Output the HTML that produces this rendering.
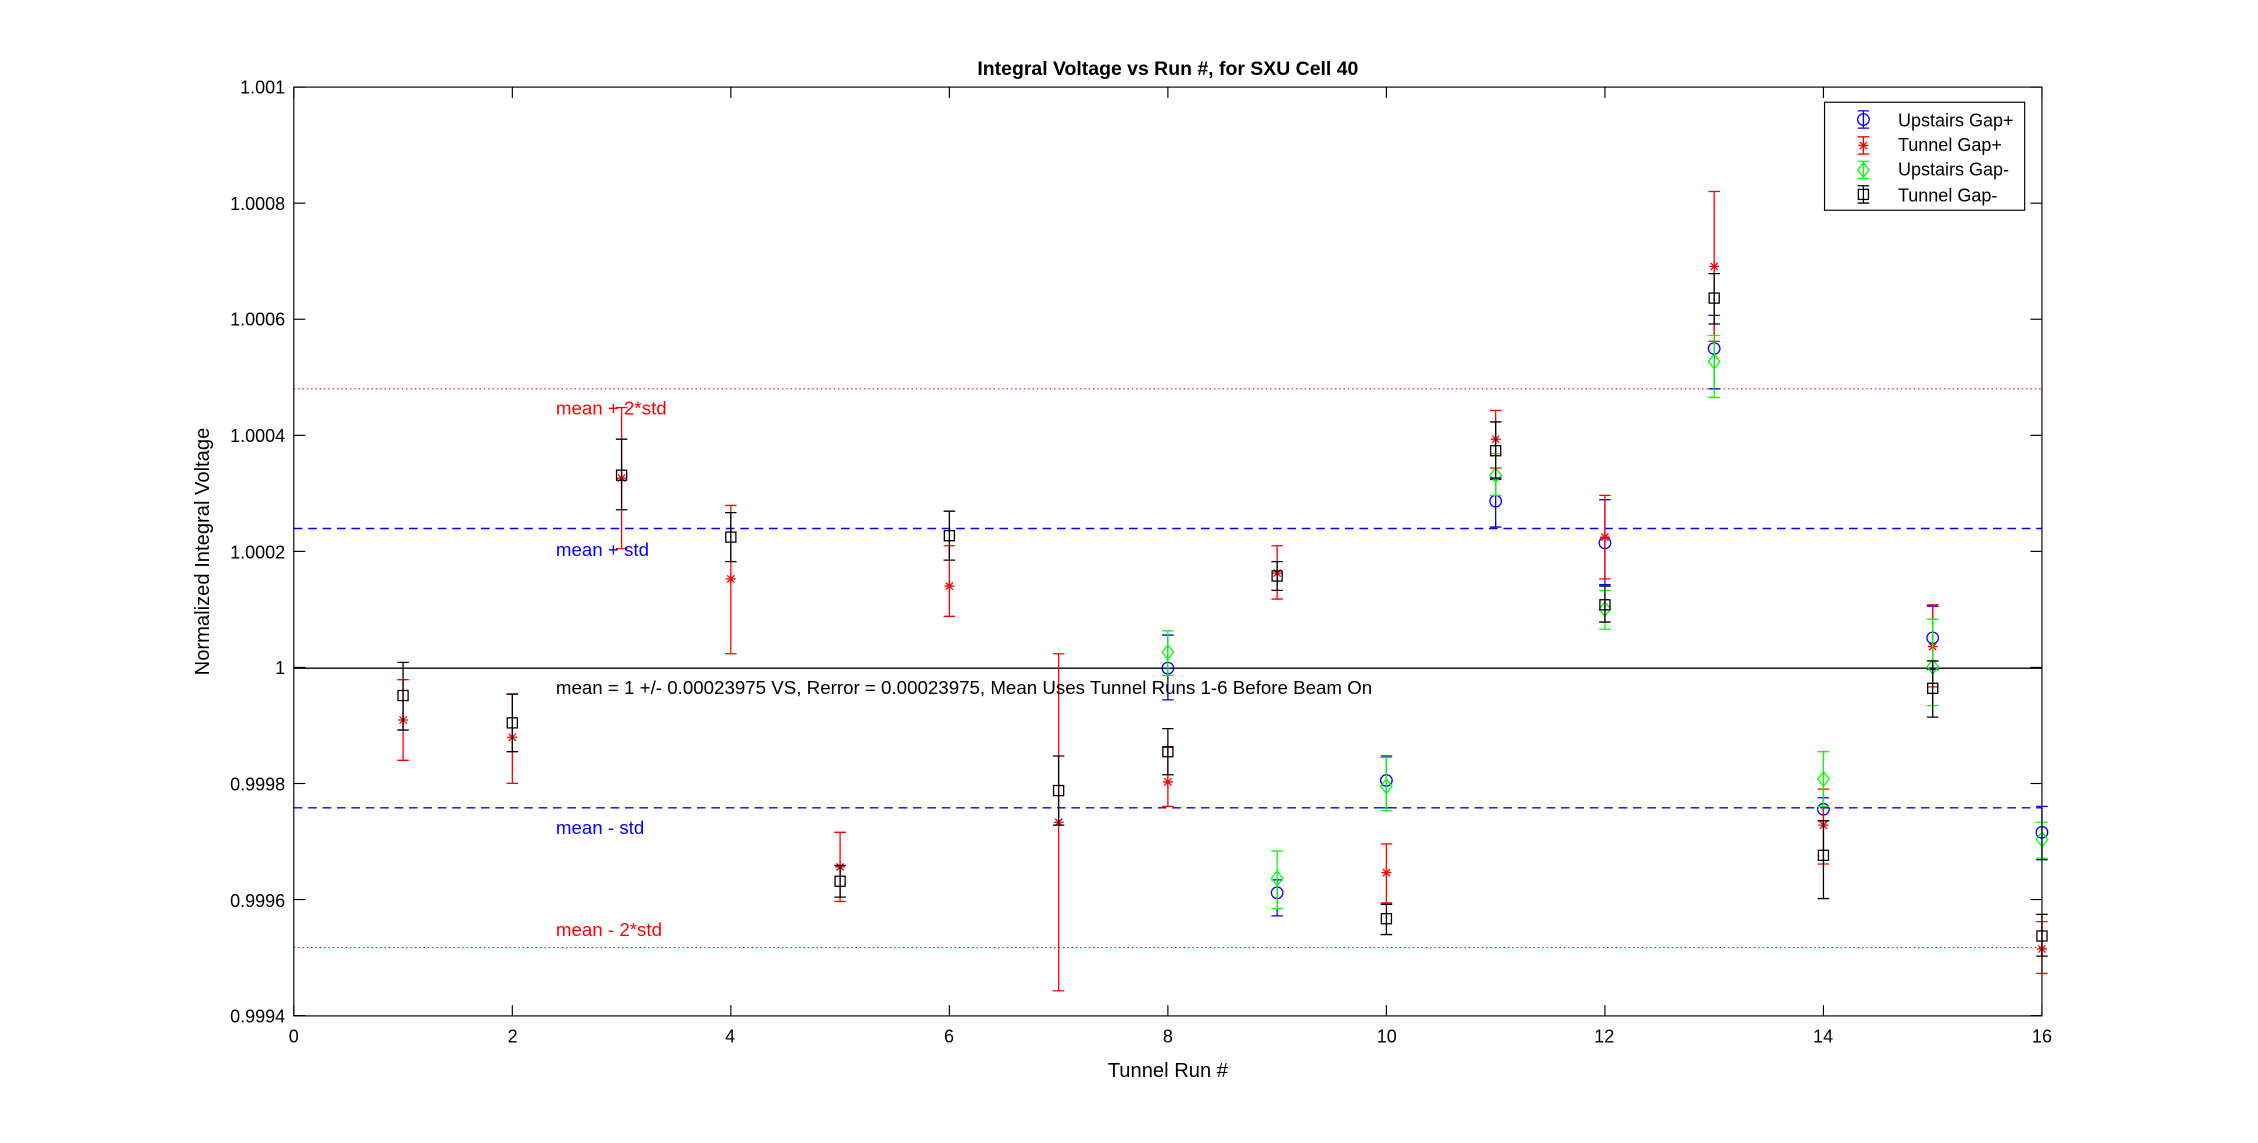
<!DOCTYPE html>
<html><head><meta charset="utf-8"><style>html,body{margin:0;padding:0;background:#fff}svg{display:block}</style></head>
<body>
<svg id="s" width="2258" height="1143" viewBox="0 0 1568 793.75" xmlns="http://www.w3.org/2000/svg" font-family="Liberation Sans, Arial, sans-serif" font-size="13">
<rect x="0" y="0" width="1568" height="793.75" fill="#fff"/>
<g id="grid"></g>
<line x1="204" y1="270" x2="1418" y2="270" stroke="#f00" stroke-width="0.8" stroke-dasharray="1,2"/>
<line x1="204" y1="658" x2="1418" y2="658" stroke="#f00" stroke-width="0.8" stroke-dasharray="1,2"/>
<line x1="204" y1="367" x2="1418" y2="367" stroke="#00f" stroke-width="1" stroke-dasharray="6,4"/>
<line x1="204" y1="561" x2="1418" y2="561" stroke="#00f" stroke-width="1" stroke-dasharray="6,4"/>
<line x1="204" y1="464" x2="1418" y2="464" stroke="#000" stroke-width="1"/>
<g id="data"></g>
<rect x="204" y="60.5" width="1214" height="645" fill="none" stroke="#000" stroke-width="0.8"/>
<text x="811" y="52" text-anchor="middle" font-weight="bold" font-size="13.5">Integral Voltage vs Run #, for SXU Cell 40</text>
<text x="811" y="748" text-anchor="middle" font-size="14">Tunnel Run #</text>
<text transform="translate(145,383) rotate(-90)" text-anchor="middle" font-size="14">Normalized Integral Voltage</text>
<g font-size="13" fill="#f00"><text x="386" y="288">mean + 2*std</text><text x="386" y="650">mean - 2*std</text></g>
<g font-size="13" fill="#00f"><text x="386" y="386">mean + std</text><text x="386" y="579">mean - std</text></g>
<text x="386" y="482" font-size="13">mean = 1 +/- 0.00023975 VS, Rerror = 0.00023975, Mean Uses Tunnel Runs 1-6 Before Beam On</text>
<g text-anchor="end" font-size="12.5">
<text x="198" y="65">1.001</text><text x="198" y="146">1.0008</text><text x="198" y="226">1.0006</text><text x="198" y="307">1.0004</text><text x="198" y="388">1.0002</text><text x="198" y="468">1</text><text x="198" y="549">0.9998</text><text x="198" y="630">0.9996</text><text x="198" y="710">0.9994</text>
</g>
<g text-anchor="middle" font-size="12.5">
<text x="204" y="724">0</text><text x="356" y="724">2</text><text x="507" y="724">4</text><text x="659" y="724">6</text><text x="811" y="724">8</text><text x="963" y="724">10</text><text x="1114" y="724">12</text><text x="1266" y="724">14</text><text x="1418" y="724">16</text>
</g>
<rect x="1267" y="71" width="139" height="75" fill="#fff" stroke="#000" stroke-width="0.8"/>
<g id="leg"></g>
<g font-size="12.5"><text x="1318" y="88">Upstairs Gap+</text><text x="1318" y="105">Tunnel Gap+</text><text x="1318" y="122">Upstairs Gap-</text><text x="1318" y="140">Tunnel Gap-</text></g>
</svg>
<script>
var NS="http://www.w3.org/2000/svg";
function el(p,t,a){var e=document.createElementNS(NS,t);for(var k in a)e.setAttribute(k,a[k]);p.appendChild(e);return e;}
var g=document.getElementById('grid');
for(var i=0;i<=8;i++){var x=204+i*151.75;el(g,'line',{x1:x,y1:705.5,x2:x,y2:698,stroke:'#000','stroke-width':0.8});el(g,'line',{x1:x,y1:60.5,x2:x,y2:68,stroke:'#000','stroke-width':0.8});}
for(var j=0;j<=8;j++){var y=60.5+j*80.6;el(g,'line',{x1:204,y1:y,x2:212,y2:y,stroke:'#000','stroke-width':0.8});el(g,'line',{x1:1418,y1:y,x2:1410,y2:y,stroke:'#000','stroke-width':0.8});}
var col={b:'#00f',r:'#f00',g:'#0f0',k:'#000'};
function mark(p,t,x,y){var c=col[t];
 if(t=='b')el(p,'circle',{cx:x,cy:y,r:4,fill:'none',stroke:c,'stroke-width':0.9});
 else if(t=='g')el(p,'path',{d:'M'+x+' '+(y-5)+'L'+(x+4)+' '+y+'L'+x+' '+(y+5)+'L'+(x-4)+' '+y+'Z',fill:'none',stroke:c,'stroke-width':0.9});
 else if(t=='k')el(p,'rect',{x:x-3.5,y:y-3.5,width:7,height:7,fill:'none',stroke:c,'stroke-width':0.9});
 else{var d='M'+(x-3.5)+' '+y+'H'+(x+3.5)+'M'+x+' '+(y-3.5)+'V'+(y+3.5)+'M'+(x-2.5)+' '+(y-2.5)+'L'+(x+2.5)+' '+(y+2.5)+'M'+(x-2.5)+' '+(y+2.5)+'L'+(x+2.5)+' '+(y-2.5);el(p,'path',{d:d,stroke:c,'stroke-width':0.9,fill:'none'});}}
function eb(p,t,x,y,a,b){var c=col[t];el(p,'path',{d:'M'+x+' '+a+'V'+b+'M'+(x-4)+' '+a+'H'+(x+4)+'M'+(x-4)+' '+b+'H'+(x+4),stroke:c,'stroke-width':0.9,fill:'none'});mark(p,t,x,y);}
var D=[
[1,[['r',500,472,528],['k',483,460,507]]],
[2,[['r',512,482,544],['k',502,482,522]]],
[3,[['r',332,283,381],['k',330,305,354]]],
[4,[['r',402,351,454],['k',373,356,390]]],
[5,[['r',602,578,626],['k',612,601,623]]],
[6,[['r',407,379,428],['k',372,355,389]]],
[7,[['r',571,454,688],['k',549,525,573]]],
[8,[['b',464,441,486],['r',543,519,560],['g',453,438,469],['k',522,506,538]]],
[9,[['b',620,611,636],['r',398,379,416],['g',610,591,631],['k',400,390,410]]],
[10,[['b',542,525,561],['r',606,586,627],['g',546,526,563],['k',638,628,649]]],
[11,[['b',348,333,366],['r',305,285,325],['g',330,315,344],['k',313,293,332]]],
[12,[['b',377,347,406],['r',373,344,402],['g',423,410,437],['k',420,407,432]]],
[13,[['b',242,219,270],['r',185,133,237],['g',251,233,276],['k',207,190,225]]],
[14,[['b',562,554,570],['r',573,548,600],['g',541,522,560],['k',594,570,624]]],
[15,[['b',443,421,465],['r',449,420,477],['g',463,430,490],['k',478,459,498]]],
[16,[['b',578,560,597],['r',659,640,676],['g',583,571,596],['k',650,635,664]]]];
var dg=document.getElementById('data');
D.forEach(function(r){var x=204+r[0]*75.875;r[1].forEach(function(s){eb(dg,s[0],x,s[1],s[2],s[3]);});});
var lg=document.getElementById('leg');
[['b',83],['r',101],['g',118],['k',135]].forEach(function(s){eb(lg,s[0],1294,s[1],s[1]-6,s[1]+6);});
</script>
</body></html>
